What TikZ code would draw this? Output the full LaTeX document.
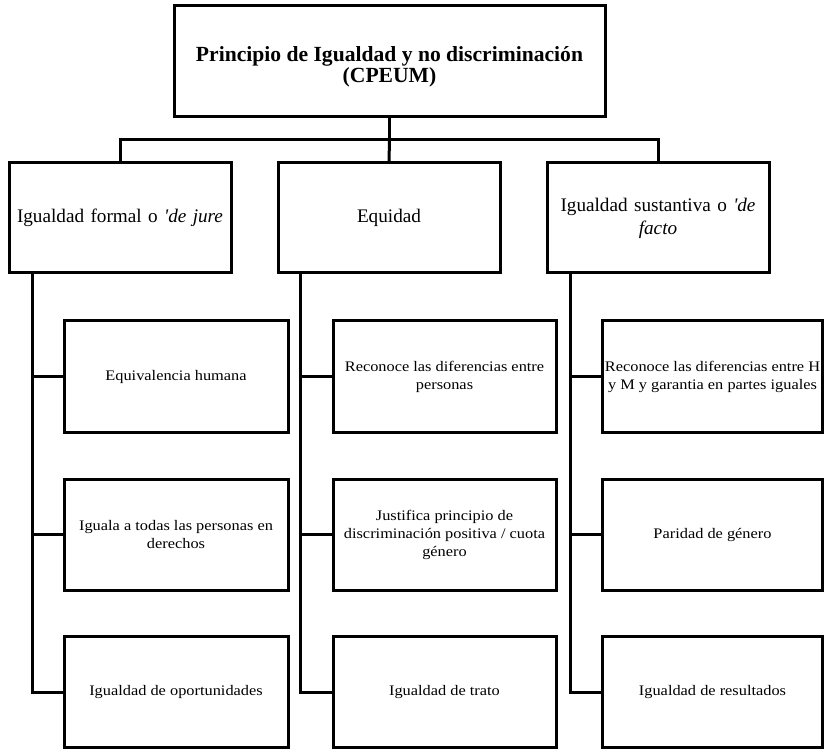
\documentclass[tikz,border=0pt]{standalone}
\usepackage{fontspec}
\setmainfont{Liberation Serif}
\newfontfamily\leaffont[FakeStretch=1.12]{Liberation Serif}
\newcommand{\apos}{\textquotesingle}
\begin{document}
\begin{tikzpicture}[x=1pt,y=-1pt,
  box/.style={draw=black, line width=3pt, rectangle, align=center, inner sep=2pt},
  topbox/.style={box, minimum width=431pt, minimum height=111pt, font=\fontsize{21.6}{21}\selectfont\bfseries},
  midbox/.style={box, minimum width=222pt, minimum height=110pt, text width=214pt, font=\fontsize{19.2}{23}\selectfont},
  leafbox/.style={box, minimum height=111pt, font=\leaffont\fontsize{14.6}{18}\selectfont},
  conn/.style={draw=black, line width=3pt}]
\useasboundingbox (0,0) rectangle (825,751);
% top
\node[topbox] (top) at (389.5,61.5) {\rule{0pt}{25pt}Principio de Igualdad y no discriminación\\(CPEUM)};
% second row
\node[midbox] (fa) at (120,218) {Igualdad formal o \textit{\apos de jure}};
\node[midbox] (fb) at (389,218) {Equidad};
\node[midbox] (fc) at (658,218) {Igualdad sustantiva o \textit{\apos de}\\\textit{facto}};
% leaves column A
\node[leafbox, minimum width=224pt] (a1) at (176,376.5) {Equivalencia humana};
\node[leafbox, minimum width=224pt] (a2) at (176,534.5) {Iguala a todas las personas en\\derechos};
\node[leafbox, minimum width=224pt] (a3) at (176,692) {Igualdad de oportunidades};
% leaves column B
\node[leafbox, minimum width=223pt] (b1) at (444.5,376.5) {Reconoce las diferencias entre\\personas};
\node[leafbox, minimum width=223pt] (b2) at (444.5,534.5) {Justifica principio de\\discriminación positiva / cuota\\género};
\node[leafbox, minimum width=223pt] (b3) at (444.5,692) {Igualdad de trato};
% leaves column C
\node[leafbox, minimum width=220pt, inner sep=0pt] (c1) at (712.5,376.5) {Reconoce las diferencias entre H\\y M y garantia en partes iguales};
\node[leafbox, minimum width=220pt] (c2) at (712.5,534.5) {Paridad de género};
\node[leafbox, minimum width=220pt] (c3) at (712.5,692) {Igualdad de resultados};
% connectors from top
\coordinate (bus) at (389.5,140);
\draw[conn] (top.south) -- (bus);
\draw[conn] (fa.north) |- (bus) -| (fc.north);
\draw[conn] (bus) -- (fb.north);
% spines
\coordinate (sa) at (32,0);
\coordinate (sb) at (300,0);
\coordinate (sc) at (570,0);
\draw[conn] (sa |- fa.south) |- (a3.west);
\draw[conn] (sa |- a1.west) -- (a1.west);
\draw[conn] (sa |- a2.west) -- (a2.west);
\draw[conn] (sb |- fb.south) |- (b3.west);
\draw[conn] (sb |- b1.west) -- (b1.west);
\draw[conn] (sb |- b2.west) -- (b2.west);
\draw[conn] (sc |- fc.south) |- (c3.west);
\draw[conn] (sc |- c1.west) -- (c1.west);
\draw[conn] (sc |- c2.west) -- (c2.west);
\end{tikzpicture}
\end{document}
